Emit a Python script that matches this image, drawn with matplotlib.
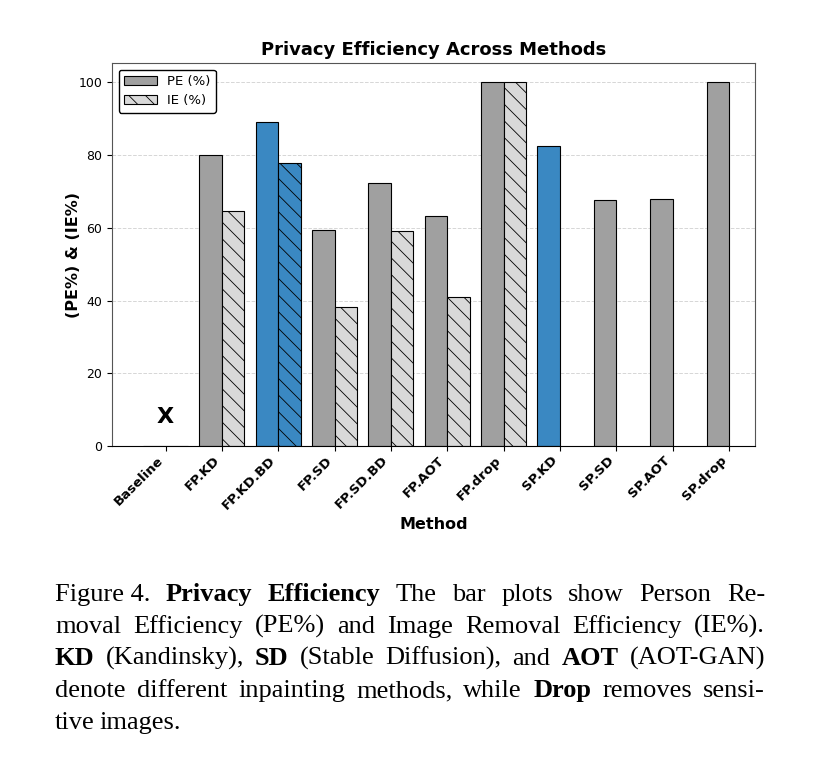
import numpy as np
import matplotlib
matplotlib.use('Agg')
import matplotlib.pyplot as plt
from matplotlib.patches import Patch

methods = ['Baseline', 'FP.KD', 'FP.KD.BD', 'FP.SD', 'FP.SD.BD', 'FP.AOT',
           'FP.drop', 'SP.KD', 'SP.SD', 'SP.AOT', 'SP.drop']
pe_vals = [0, 80.0, 89.2, 59.3, 72.2, 63.3, 100, 82.5, 67.5, 68.0, 100]
ie_vals = [0, 64.7, 77.7, 38.2, 59.0, 40.9, 100, np.nan, np.nan, np.nan, np.nan]
highlight = ['FP.KD.BD', 'SP.KD']

caption_lines = [
    [('Figure 4.', False), ('Privacy', True), ('Efficiency', True), ('The', False), ('bar', False),
     ('plots', False), ('show', False), ('Person', False), ('Re-', False)],
    [('moval', False), ('Efficiency', False), ('(PE%)', False), ('and', False), ('Image', False),
     ('Removal', False), ('Efficiency', False), ('(IE%).', False)],
    [('KD', True), ('(Kandinsky),', False), ('SD', True), ('(Stable', False), ('Diffusion),', False),
     ('and', False), ('AOT', True), ('(AOT-GAN)', False)],
    [('denote', False), ('different', False), ('inpainting', False), ('methods,', False), ('while', False),
     ('Drop', True), ('removes', False), ('sensi-', False)],
    [('tive', False), ('images.', False)],
]

plt.rcParams['hatch.linewidth'] = 0.6

W, H = 820, 766
fig = plt.figure(figsize=(W / 100, H / 100), dpi=100)
ax = fig.add_axes([112 / W, 1 - 446 / H, (755 - 112) / W, (446 - 63) / H])

x = np.arange(len(methods))
width = 0.4
gray = '#a0a0a0'
light = '#d9d9d9'
blue = '#3a88c2'

pe_colors = [blue if m in highlight else gray for m in methods]
ie_colors = [blue if m in highlight else light for m in methods]

ax.grid(axis='y', linestyle='--', color='#cccccc', linewidth=0.7, alpha=0.8)
ax.set_axisbelow(True)

ax.bar(x - width / 2, pe_vals, width, color=pe_colors, edgecolor='black', linewidth=0.8)
ie_arr = np.array(ie_vals)
mask = ~np.isnan(ie_arr)
ax.bar(x[mask] + width / 2, ie_arr[mask], width, color=np.array(ie_colors)[mask],
       edgecolor='black', linewidth=0.8, hatch='\\\\')

ax.text(0, 8, 'X', ha='center', va='center', fontsize=16, fontweight='bold')

ax.set_xlim(-0.95, 10.46)
ax.set_ylim(0, 105.3)
ax.set_xticks(x)
ax.set_xticklabels(methods, rotation=45, ha='right', fontweight='bold', fontsize=9.5)
ax.tick_params(axis='y', labelsize=9)
ax.tick_params(axis='x', pad=2)
for s in ax.spines.values():
    s.set_color('#555555')
ax.spines['bottom'].set_color('black')
ax.set_xlabel('Method', fontweight='bold', fontsize=11.5, labelpad=4)
ax.set_ylabel('(PE%) & (IE%)', fontweight='bold', fontsize=11.5, labelpad=-2)
ax.set_title('Privacy Efficiency Across Methods', fontweight='bold', fontsize=13, pad=6)

handles = [Patch(facecolor=gray, edgecolor='black', linewidth=0.8, label='PE (%)'),
           Patch(facecolor=light, edgecolor='black', linewidth=0.8, hatch='\\\\', label='IE (%)')]
ax.legend(handles=handles, loc='upper left', fontsize=9.5, framealpha=1,
          edgecolor='black', handlelength=2.5)

# caption, justified line by line
renderer = fig.canvas.get_renderer()
left_px, right_px = 55, 765
baselines = [601, 633, 665, 697, 729]
cap_fs = 19
for line, yb in zip(caption_lines, baselines):
    texts = []
    for word, bold in line:
        t = fig.text(0, 1 - yb / H, word, fontsize=cap_fs, family='Liberation Serif',
                     fontweight='bold' if bold else 'normal', va='baseline', ha='left')
        texts.append(t)
    widths = [t.get_window_extent(renderer).width for t in texts]
    if line is caption_lines[-1]:
        gap = 5
    else:
        gap = (right_px - left_px - sum(widths)) / (len(texts) - 1)
    cur = left_px
    for t, w in zip(texts, widths):
        t.set_x(cur / W)
        cur += w + gap

fig.savefig('out.png', dpi=100)
